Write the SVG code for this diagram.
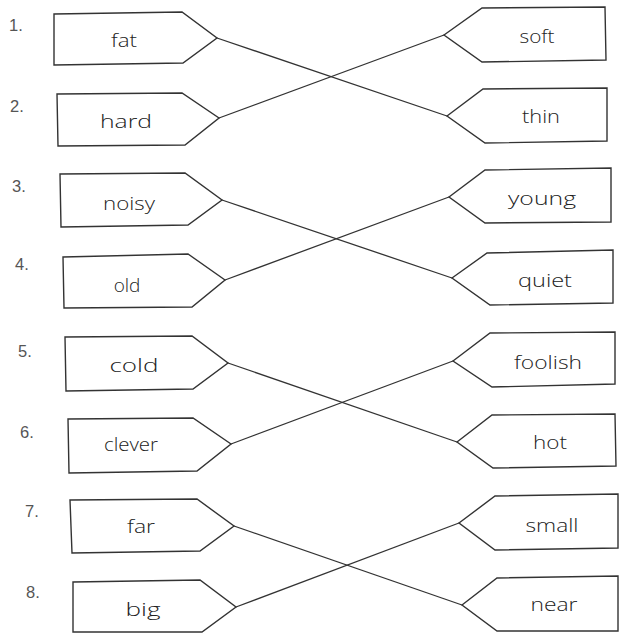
<svg xmlns="http://www.w3.org/2000/svg" width="619" height="633" viewBox="0 0 619 633">
<style>
.box{fill:#fff;stroke:#333;stroke-width:1.4;stroke-linejoin:miter}
.lbl{font-family:"Open Sans","DejaVu Sans",sans-serif;font-weight:300;font-size:19px;fill:#222;text-anchor:middle}
.num{font-family:"Liberation Sans",sans-serif;font-size:16.5px;fill:#555}
.conn line{stroke:#333;stroke-width:1.3}
</style>
<rect x="0" y="0" width="619" height="633" fill="#fff"/>
<g id="numbers">
<text class="num" x="9" y="31">1.</text>
<text class="num" x="10" y="112">2.</text>
<text class="num" x="12" y="192">3.</text>
<text class="num" x="15" y="270">4.</text>
<text class="num" x="18" y="357">5.</text>
<text class="num" x="20" y="438">6.</text>
<text class="num" x="25" y="517">7.</text>
<text class="num" x="26" y="598">8.</text>
</g>
<g class="conn" id="connectors">
<line x1="217" y1="38" x2="447" y2="116"/>
<line x1="219" y1="118" x2="444" y2="35"/>
<line x1="222" y1="200" x2="452" y2="278"/>
<line x1="225" y1="280" x2="449" y2="197"/>
<line x1="228" y1="363" x2="457" y2="442"/>
<line x1="231" y1="444" x2="453" y2="361"/>
<line x1="234" y1="526" x2="462" y2="605"/>
<line x1="236" y1="607" x2="459" y2="523"/>
</g>
<g id="fat"><polygon class="box" points="54,14 182,12 217,38 183,63 54,65"/><text class="lbl" x="124" y="47" textLength="26" lengthAdjust="spacingAndGlyphs">fat</text></g>
<g id="hard"><polygon class="box" points="57,94 182,93 219,118 185,145 58,146"/><text class="lbl" x="126" y="128" textLength="52" lengthAdjust="spacingAndGlyphs">hard</text></g>
<g id="soft"><polygon class="box" points="444,35 482,8 605,7 606,60 482,62"/><text class="lbl" x="537" y="43" textLength="35" lengthAdjust="spacingAndGlyphs">soft</text></g>
<g id="thin"><polygon class="box" points="447,116 483,89 607,88 607,141 485,143"/><text class="lbl" x="541" y="123" textLength="38" lengthAdjust="spacingAndGlyphs">thin</text></g>
<g id="noisy"><polygon class="box" points="60,174 185,173 222,200 188,225 61,227"/><text class="lbl" x="129" y="210" textLength="52" lengthAdjust="spacingAndGlyphs">noisy</text></g>
<g id="old"><polygon class="box" points="63,257 188,254 225,280 192,307 64,308"/><text class="lbl" x="127" y="292">old</text></g>
<g id="young"><polygon class="box" points="449,197 485,170 611,168 611,222 485,223"/><text class="lbl" x="542" y="205" textLength="68" lengthAdjust="spacingAndGlyphs">young</text></g>
<g id="quiet"><polygon class="box" points="452,278 487,253 613,250 613,303 490,305"/><text class="lbl" x="545" y="287" textLength="54" lengthAdjust="spacingAndGlyphs">quiet</text></g>
<g id="cold"><polygon class="box" points="65,337 192,336 228,363 193,389 66,391"/><text class="lbl" x="134" y="372" textLength="49" lengthAdjust="spacingAndGlyphs">cold</text></g>
<g id="clever"><polygon class="box" points="68,419 193,418 231,444 197,471 69,473"/><text class="lbl" x="131" y="451" textLength="54" lengthAdjust="spacingAndGlyphs">clever</text></g>
<g id="foolish"><polygon class="box" points="453,361 490,333 615,332 615,384 492,387"/><text class="lbl" x="548" y="369" textLength="68" lengthAdjust="spacingAndGlyphs">foolish</text></g>
<g id="hot"><polygon class="box" points="457,442 492,415 615,414 616,466 493,468"/><text class="lbl" x="550" y="449" textLength="34" lengthAdjust="spacingAndGlyphs">hot</text></g>
<g id="far"><polygon class="box" points="70,500 197,499 234,526 200,551 72,553"/><text class="lbl" x="141" y="533" textLength="28" lengthAdjust="spacingAndGlyphs">far</text></g>
<g id="big"><polygon class="box" points="73,582 200,580 236,607 202,632 73,632"/><text class="lbl" x="143" y="616" textLength="35" lengthAdjust="spacingAndGlyphs">big</text></g>
<g id="small"><polygon class="box" points="459,523 495,496 618,494 618,548 495,550"/><text class="lbl" x="552" y="532" textLength="53" lengthAdjust="spacingAndGlyphs">small</text></g>
<g id="near"><polygon class="box" points="462,605 497,578 618,576 618,631 497,631"/><text class="lbl" x="554" y="611" textLength="47" lengthAdjust="spacingAndGlyphs">near</text></g>
</svg>
